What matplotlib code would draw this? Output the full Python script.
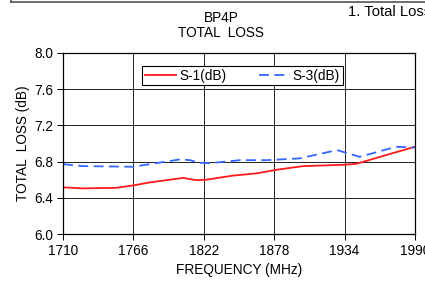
import matplotlib
matplotlib.use("Agg")
import matplotlib.pyplot as plt
from matplotlib.lines import Line2D

plt.rcParams['font.family'] = ['Liberation Sans', 'DejaVu Sans']

freq_s1 = [1710, 1726, 1752, 1766, 1779, 1805.5, 1816, 1824, 1845, 1864, 1880, 1901, 1933, 1943.5, 1965, 1990]
s1 = [6.515, 6.504, 6.51, 6.537, 6.57, 6.62, 6.595, 6.60, 6.645, 6.67, 6.71, 6.75, 6.765, 6.776, 6.864, 6.964]

freq_s3 = [1710, 1726, 1766, 1779, 1803, 1811, 1819, 1827, 1851, 1872, 1898, 1928, 1946, 1975, 1990]
s3 = [6.772, 6.75, 6.743, 6.772, 6.824, 6.816, 6.787, 6.783, 6.816, 6.816, 6.835, 6.927, 6.853, 6.964, 6.956]

xticks = [1710, 1766, 1822, 1878, 1934, 1990]
yticks = [6.0, 6.4, 6.8, 7.2, 7.6, 8.0]

FS = 9.8
W, H = 425, 283
fig = plt.figure(figsize=(W / 100, H / 100), dpi=100)
ax = fig.add_axes([63 / W, (H - 234) / H, 352 / W, 181 / H])

ax.plot(freq_s1, s1, color='#ff1a1a', lw=1.3, label='S-1(dB)')
ax.plot(freq_s3, s3, color='#3366ff', lw=1.3, dashes=(5.5, 3), label='S-3(dB)')

ax.set_xlim(1710, 1990)
ax.set_ylim(6.0, 8.0)
ax.set_xticks(xticks)
ax.set_yticks(yticks)
ax.set_yticklabels([f"{v:.1f}" for v in yticks])
ax.grid(True, color='#222222', lw=0.7)
ax.tick_params(axis='both', direction='out', length=4, width=0.7, labelsize=FS, colors='black', pad=3)
for s in ax.spines.values():
    s.set_linewidth(0.9)
    s.set_color('black')

ax.set_xlabel('FREQUENCY (MHz)', fontsize=FS, labelpad=4)
ax.set_ylabel('TOTAL  LOSS (dB)', fontsize=FS, labelpad=3)

leg = ax.legend(loc='upper center', ncol=2,
                fontsize=FS, frameon=True, fancybox=False, framealpha=1, edgecolor='black',
                handlelength=2.3, columnspacing=2.4, borderpad=0.2, handletextpad=0.2,
                bbox_to_anchor=((142 + 343) / 2 / W, (H - 59) / H), bbox_transform=fig.transFigure)
leg.get_frame().set_linewidth(0.8)

fig.text(221 / W, 1 - 18 / H, 'BP4P', ha='center', va='center', fontsize=FS)
fig.text(221 / W, 1 - 33 / H, 'TOTAL  LOSS', ha='center', va='center', fontsize=FS)
fig.text(348 / W, 1 - 12 / H, '1. Total Loss', ha='left', va='center', fontsize=10.6)

fig.add_artist(Line2D([11 / W, 1.0], [1 - 1.5 / H, 1 - 1.5 / H], transform=fig.transFigure, color='#555555', lw=1.2))
fig.add_artist(Line2D([11 / W, 11 / W], [1.0, 1 - 2 / H], transform=fig.transFigure, color='#555555', lw=1.2))

fig.savefig('out.png', dpi=100)
